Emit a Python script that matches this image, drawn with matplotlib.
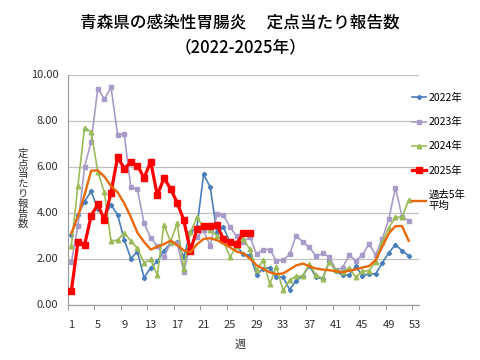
import numpy as np
import matplotlib
matplotlib.use('Agg')
import matplotlib.pyplot as plt
from matplotlib.lines import Line2D

plt.rcParams['font.family'] = ['Noto Sans CJK JP', 'DejaVu Sans']

# weekly values
weeks_2022 = np.arange(1, 53)
y2022 = [3.02, 3.90, 4.47, 4.93, 4.15, 3.80, 4.34, 3.90, 2.82, 2.00,
         2.30, 1.16, 1.60, 1.87, 2.32, 2.68, 2.70, 2.07, 3.14, 3.38,
         5.66, 5.10, 3.15, 3.35, 2.70, 2.55, 2.18, 2.15, 1.30, 1.55,
         1.60, 1.19, 1.20, 0.65, 1.03, 1.26, 1.69, 1.18, 1.13, 1.88,
         1.45, 1.27, 1.28, 1.66, 1.24, 1.34, 1.33, 1.80, 2.25, 2.60,
         2.34, 2.12]
y2023 = [1.83, 3.41, 5.98, 7.08, 9.39, 8.93, 9.45, 7.39, 7.40, 5.09,
         5.01, 3.53, 2.90, 2.55, 2.05, 2.68, 2.68, 1.42, 2.60, 2.95,
         3.22, 2.54, 3.92, 3.88, 3.36, 2.96, 2.72, 2.94, 2.19, 2.39,
         2.39, 1.90, 1.93, 2.18, 3.00, 2.71, 2.48, 2.10, 2.22, 2.07,
         1.50, 1.60, 2.15, 1.91, 2.15, 2.63, 2.16, 2.85, 3.72, 5.08,
         3.82, 3.64]
y2024 = [2.54, 5.17, 7.69, 7.50, 5.78, 4.88, 2.76, 2.80, 3.12, 2.76,
         2.44, 1.81, 1.96, 1.28, 3.47, 2.73, 3.53, 1.55, 3.15, 3.79,
         3.35, 3.23, 3.00, 2.75, 2.06, 2.55, 2.85, 2.40, 1.50, 1.93,
         0.90, 1.64, 0.62, 1.06, 1.22, 1.25, 1.74, 1.28, 1.13, 1.84,
         1.49, 1.42, 1.59, 1.19, 1.45, 1.47, 1.86, 2.73, 3.33, 3.80,
         3.79, 4.54]
y2025 = [0.58, 2.70, 2.58, 3.86, 4.35, 3.67, 4.86, 6.41, 5.91, 6.18,
         6.04, 5.50, 6.21, 4.75, 5.49, 5.04, 4.43, 3.67, 2.32, 3.27,
         3.43, 3.40, 3.47, 2.84, 2.70, 2.65, 3.11, 3.11]
y_avg = [3.09, 3.82, 4.76, 5.82, 5.83, 5.56, 5.15, 4.88, 4.40, 3.80,
         3.12, 2.72, 2.39, 2.51, 2.62, 2.78, 2.58, 2.35, 2.27, 2.62,
         2.85, 2.88, 2.80, 2.65, 2.48, 2.30, 2.22, 2.00, 1.71, 1.55,
         1.40, 1.32, 1.35, 1.52, 1.70, 1.78, 1.66, 1.56, 1.52, 1.49,
         1.45, 1.40, 1.47, 1.52, 1.61, 1.67, 1.93, 2.51, 3.09, 3.41,
         3.41, 2.77]

x_labels = list(range(1, 54, 4))
y_ticks = [0, 2, 4, 6, 8, 10]

c2022 = '#4a7ebb'
c2023 = '#a99bc8'
c2024 = '#9bbb59'
c2025 = '#ff0000'
cavg = '#e8690a'
grid_col = '#c0c0c0'


fig = plt.figure(figsize=(4.8, 3.6), dpi=100)
ax = fig.add_axes([68/480, 1-304.5/360, (418.6-68)/480, (304.5-74.5)/360])

ax.plot(weeks_2022, y2022, color=c2022, lw=1.2, marker='D', ms=2.2, zorder=3)
ax.plot(np.arange(1, len(y2023)+1), y2023, color=c2023, lw=1.2, marker='s', ms=3.3, zorder=3)
ax.plot(np.arange(1, len(y2024)+1), y2024, color=c2024, lw=1.2, marker='^', ms=3.3, zorder=3)
ax.plot(np.arange(1, len(y2025)+1), y2025, color=c2025, lw=2.3, marker='s', ms=5, zorder=4)
ax.plot(np.arange(1, len(y_avg)+1), y_avg, color=cavg, lw=1.7, zorder=5)

ax.set_xlim(0.5, 53.5)
ax.set_ylim(0, 10)
ax.set_yticks(y_ticks)
ax.set_yticklabels(['%.2f' % v for v in y_ticks])
ax.set_xticks(x_labels)
ax.set_xticks(np.arange(0.5, 54, 4), minor=True)
ax.tick_params(axis='x', which='major', length=0, pad=11, labelsize=8, colors='#303030')
ax.tick_params(axis='x', which='minor', length=3.5, width=0.8, color='#a0a0a0', direction='out')
ax.tick_params(axis='y', length=0, pad=7, labelsize=8, colors='#303030')

ax.grid(axis='y', color=grid_col, lw=0.9)
ax.set_axisbelow(True)
for s in ['top', 'right']:
    ax.spines[s].set_visible(False)
for s in ['left', 'bottom']:
    ax.spines[s].set_color('#a0a0a0')
    ax.spines[s].set_linewidth(0.9)

# titles and axis names
fig.text(0.5, 1-22/360, '青森県の感染性胃腸炎　 定点当たり報告数', ha='center', va='center',
         fontsize=12, fontweight='medium')
fig.text(0.5, 1-47/360, '（2022-2025年）', ha='center', va='center', fontsize=12, fontweight='medium')
fig.text(23/480, 1-189/360, '\n'.join('定点当たり報告数'), ha='center', va='center',
         fontsize=7.5, linespacing=1.0, color='#303030')
fig.text(240/480, 1-345/360, '週', ha='center', va='center', fontsize=8, color='#303030')

handles = [
    Line2D([], [], color=c2022, lw=1.2, marker='D', ms=2.2),
    Line2D([], [], color=c2023, lw=1.2, marker='s', ms=3.3),
    Line2D([], [], color=c2024, lw=1.2, marker='^', ms=3.3),
    Line2D([], [], color=c2025, lw=2.3, marker='s', ms=5),
    Line2D([], [], color=cavg, lw=1.7),
]
labels = ['2022年', '2023年', '2024年', '2025年', '過去5年\n平均']
fig.legend(handles, labels, loc='upper left', bbox_to_anchor=(412/480, 1-93/360),
           frameon=False, fontsize=7.5, handlelength=1.3, handletextpad=0.3,
           labelspacing=1.35, borderpad=0, borderaxespad=0)

fig.savefig('out.png', dpi=100)
